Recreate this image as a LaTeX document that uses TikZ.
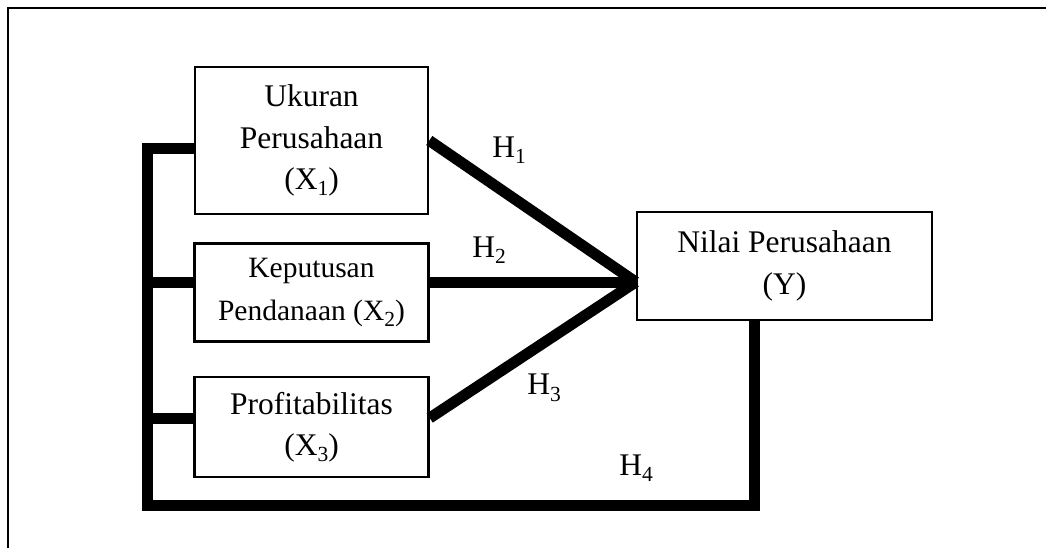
\documentclass[tikz,border=0pt]{standalone}
\usepackage{fontspec}
\setmainfont{Liberation Serif}
\usetikzlibrary{positioning,calc}

\newcommand{\lowsub}[1]{\raisebox{-2.6pt}{\fontsize{8.6}{8.6}\selectfont #1}}

\begin{document}
\begin{tikzpicture}[x=0.4pt, y=-0.4pt,
  var/.style={draw, line width=1pt, align=center, inner sep=0pt,
              font=\fontsize{12.6}{16.5}\selectfont},
  hyp/.style={inner sep=0pt, font=\fontsize{12.6}{15}\selectfont},
  link/.style={line width=4.4pt},
  frame/.style={line width=1pt}]
\useasboundingbox (0,0) rectangle (1046,548);
% outer frame, top and left only
\draw[frame] (8,548) -- (8,8) -- (1046,8);
% variables
\node[var, minimum width=93.2pt, minimum height=58.8pt] (ukuran) at (311.5,140.5) {Ukuran\\Perusahaan\\(X\lowsub{1})};
\node[var, below=10.8pt of ukuran, minimum width=93.6pt, minimum height=39.2pt,
      font=\fontsize{11.8}{17}\selectfont] (keput) {Keputusan\\Pendanaan (X\lowsub{2})};
\node[var, below=13.2pt of keput, minimum width=93.6pt, minimum height=40pt] (profit) {Profitabilitas\\(X\lowsub{3})};
\node[var, minimum width=118pt, minimum height=43.2pt] (nilai) at (784.5,266) {Nilai Perusahaan\\(Y)};
% direct effects
\coordinate (tip) at ($(nilai.west)+(0,16)$);
\coordinate (p3) at ($(profit.east)+(0,-9)$);
\draw[link] (ukuran.east) -- (tip);
\draw[link] (keput.east |- tip) -- (tip);
\draw[link] (p3) -- (tip);
\node[hyp] (h1) at (509,150) {H\lowsub{1}};
\node[hyp] (h2) at (489,250) {H\lowsub{2}};
\node[hyp] (h3) at (544,388) {H\lowsub{3}};
% joint effect
\coordinate (busT) at (147,148);
\coordinate (busB) at (147,505);
\coordinate (busR) at (754,505);
\draw[link] (ukuran.west |- busT) -- (busT) -- (busB) -- (busR) -- (busR |- nilai.south);
\draw[link] (keput.west |- tip) -- (busT |- tip);
\draw[link] (profit.west |- p3) -- (busT |- p3);
\node[hyp] (h4) at (636,468) {H\lowsub{4}};
\end{tikzpicture}
\end{document}
